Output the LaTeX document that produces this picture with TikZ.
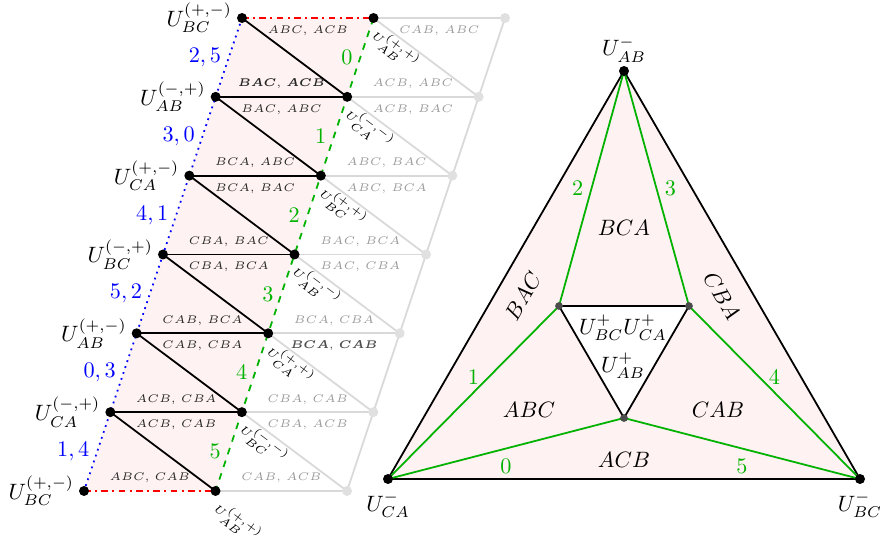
\documentclass[tikz,border=0pt]{standalone}
\usepackage{amsmath}
\usetikzlibrary{calc}

\tikzset{
  vtx/.style={circle, fill=black, inner sep=0pt, minimum size=4.5pt},
  gvtx/.style={circle, fill=black!12, inner sep=0pt, minimum size=4.5pt},
  ivtx/.style={circle, fill=black!70, inner sep=0pt, minimum size=3.5pt},
  gline/.style={black!15, thick},
  pairlab/.style={font=\tiny, text=black!85},
  gpairlab/.style={font=\tiny, text=black!40},
  ulab/.style={font=\tiny, rotate=-37},
  grn/.style={green!70!black}
}

\begin{document}
\begin{tikzpicture}[x=0.45pt, y=-0.45pt]
\useasboundingbox (0,0) rectangle (887,546);

% Puntos de la franja
\foreach \i in {0,...,6} {
  \coordinate (P\i) at ({242-26.33*\i}, {18+78.83*\i});
  \coordinate (Q\i) at ($(P\i)+(131.5,0)$);
  \coordinate (R\i) at ($(P\i)+(263,0)$);
}
\fill[red!5] (P0) -- (Q0) -- (Q6) -- (P6) -- cycle;

% Copia gris
\foreach \i in {0,...,6} \draw[gline] (Q\i) -- (R\i);
\foreach \i [count=\j from 1] in {0,...,5} \draw[gline] (Q\i) -- (R\j);
\draw[gline] (R0) -- (R6);

% Franja original
\foreach \i in {1,...,5} \draw[thick] (P\i) -- (Q\i);
\foreach \i [count=\j from 1] in {0,...,5} \draw[thick] (P\i) -- (Q\j);
\draw[thick, red, dash dot] (P0) -- (Q0) (P6) -- (Q6);
\draw[thick, blue, dotted] (P0) -- (P6);
\draw[thick, grn, dashed] (Q0) -- (Q6);

\foreach \i in {0,...,6} {
  \node[gvtx] (r\i) at (R\i) {};
  \node[vtx] (p\i) at (P\i) {};
  \node[vtx] (q\i) at (Q\i) {};
}

% Etiquetas de la franja
\foreach \i/\t [count=\j from 1] in {0/{2,5}, 1/{3,0}, 2/{4,1}, 3/{5,2}, 4/{0,3}, 5/{1,4}}
  \node[blue, left] (e\i) at ($(P\i)!0.5!(P\j)$) {$\t$};
\foreach \i [count=\j from 1] in {0,...,5}
  \node[grn, left] (f\i) at ($(Q\i)!0.5!(Q\j)$) {$\i$};

\foreach \i/\t in {0/{$U^{(+,-)}_{BC}$}, 1/{$U^{(-,+)}_{AB}$}, 2/{$U^{(+,-)}_{CA}$}, 3/{$U^{(-,+)}_{BC}$}, 4/{$U^{(+,-)}_{AB}$}, 5/{$U^{(-,+)}_{CA}$}, 6/{$U^{(+,-)}_{BC}$}}
  \node[left=1pt] (u\i) at (P\i) {\t};
\foreach \i/\t in {0/{$U^{(+,+)}_{AB}$}, 1/{$U^{(-,-)}_{CA}$}, 2/{$U^{(+,+)}_{BC}$}, 3/{$U^{(-,-)}_{AB}$}, 4/{$U^{(+,+)}_{CA}$}, 5/{$U^{(-,-)}_{BC}$}, 6/{$U^{(+,+)}_{AB}$}}
  \node[ulab] (v\i) at ([shift={(22,32)}]Q\i) {\t};

\foreach \i/\t in {1/{{\boldmath$BAC$, $ACB$}}, 2/{$BCA$, $ABC$}, 3/{$CBA$, $BAC$}, 4/{$CAB$, $BCA$}, 5/{$ACB$, $CBA$}, 6/{$ABC$, $CAB$}}
  \node[pairlab, above] (a\i) at ($(P\i)!0.5!(Q\i)$) {\t};
\foreach \i/\t in {0/{$ABC$, $ACB$}, 1/{$BAC$, $ABC$}, 2/{$BCA$, $BAC$}, 3/{$CBA$, $BCA$}, 4/{$CAB$, $CBA$}, 5/{$ACB$, $CAB$}}
  \node[pairlab, below] (b\i) at ($(P\i)!0.5!(Q\i)$) {\t};
\foreach \i/\t in {1/{$ACB$, $ABC$}, 2/{$ABC$, $BAC$}, 3/{$BAC$, $BCA$}, 4/{$BCA$, $CBA$}, 5/{$CBA$, $CAB$}, 6/{$CAB$, $ACB$}}
  \node[gpairlab, above] (c\i) at ($(Q\i)!0.5!(R\i)$) {\t};
\foreach \i/\t in {0/{$CAB$, $ABC$}, 1/{$ACB$, $BAC$}, 2/{$ABC$, $BCA$}, 3/{$BAC$, $CBA$}, 4/{{\color{black!70}\boldmath$BCA$, $CAB$}}, 5/{$CBA$, $ACB$}}
  \node[gpairlab, below] (d\i) at ($(Q\i)!0.5!(R\i)$) {\t};

% Triangulo
\coordinate (T) at (624,71);
\coordinate (BL) at (388,479);
\coordinate (BR) at (860,479);
\coordinate (IL) at (559,306);
\coordinate (IR) at (689,306);
\coordinate (IB) at (624,418);
\fill[red!5] (T) -- (BL) -- (BR) -- cycle;
\fill[white] (IL) -- (IR) -- (IB) -- cycle;
\draw[thick] (T) -- (BL) -- (BR) -- cycle;
\draw[thick] (IL) -- (IR) -- (IB) -- cycle;
\draw[thick, grn] (T) -- node[left] (g2) {$2$} (IL);
\draw[thick, grn] (T) -- node[right] (g3) {$3$} (IR);
\draw[thick, grn] (BL) -- node[above] (g1) {$1$} (IL);
\draw[thick, grn] (BR) -- node[above] (g4) {$4$} (IR);
\draw[thick, grn] (BL) -- node[below=1pt] (g0) {$0$} (IB);
\draw[thick, grn] (BR) -- node[below=1pt] (g5) {$5$} (IB);

\node (rBCA) at (624,228) {$BCA$};
\node (rABC) at (529,410) {$ABC$};
\node (rCAB) at (718,410) {$CAB$};
\node (rACB) at (624,460) {$ACB$};
\node[rotate=60] (rBAC) at (523,296) {$BAC$};
\node[rotate=-60] (rCBA) at (722,296) {$CBA$};
\node (uin) at (623,328) {$U^+_{BC}U^+_{CA}$};
\node (uab) at (623,366) {$U^+_{AB}$};

\node[vtx, label={[label distance=-2pt]above:$U^-_{AB}$}] (t) at (T) {};
\node[vtx, label=below:$U^-_{CA}$] (bl) at (BL) {};
\node[vtx, label=below:$U^-_{BC}$] (br) at (BR) {};
\foreach \c in {IL,IR,IB} \node[ivtx] (i\c) at (\c) {};
\end{tikzpicture}
\end{document}
